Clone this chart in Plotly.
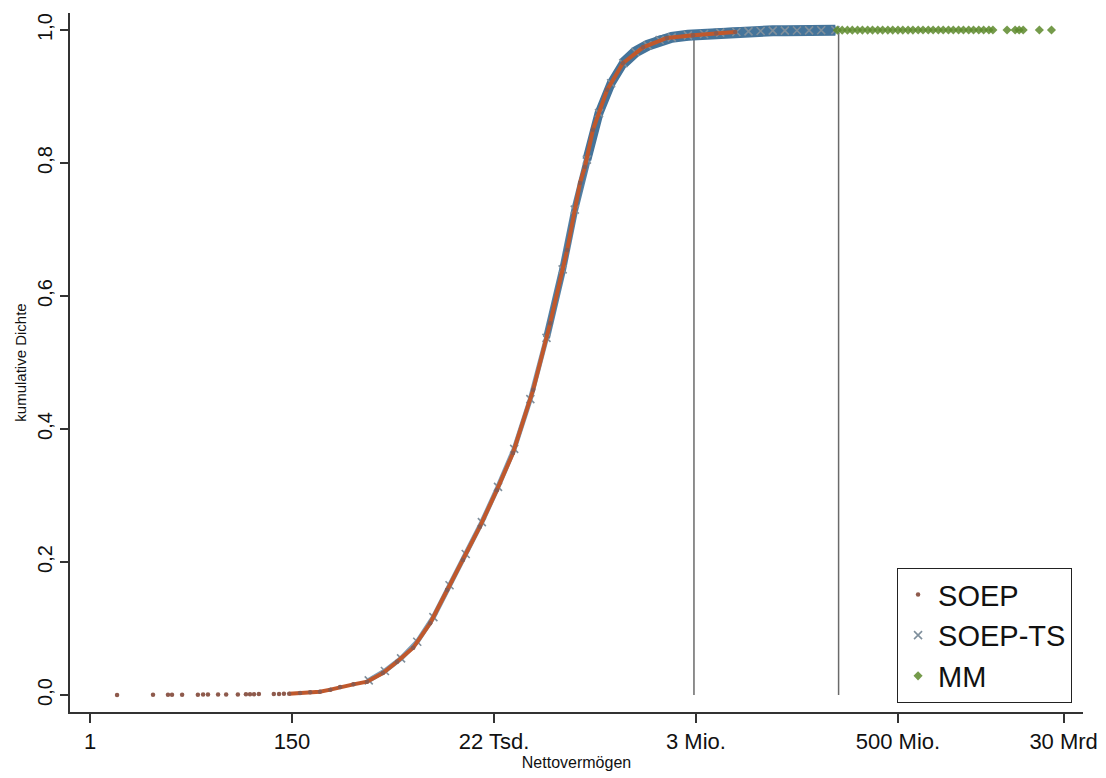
import plotly.graph_objects as go

# ---- data (x = ln(Nettovermögen), y = kumulative Dichte) ----
soep_ln = [0.67, 1.56, 1.93, 2.03, 2.28, 2.67, 2.80, 2.92, 3.17, 3.37, 3.66, 3.86, 3.96,
           4.06, 4.18, 4.55, 4.68, 4.80, 4.93, 5.20, 5.45, 5.69, 5.95, 6.19, 6.52, 6.86,
           7.25, 7.60, 8.00, 8.42, 8.84, 9.23, 9.65, 10.07, 10.47, 10.97, 11.39, 11.81,
           12.13, 12.25, 12.45, 12.80, 13.19, 13.69, 14.28, 14.93, 15.50, 15.97]
soep_cdf = [0.0001, 0.0002, 0.0003, 0.0003, 0.0004, 0.0005, 0.0006, 0.0006, 0.0007, 0.0008,
            0.0009, 0.0010, 0.0011, 0.0012, 0.0013, 0.0015, 0.0016, 0.0018, 0.0020, 0.003,
            0.004, 0.005, 0.008, 0.012, 0.016, 0.020, 0.033, 0.050, 0.071, 0.108, 0.158,
            0.203, 0.253, 0.308, 0.364, 0.459, 0.559, 0.669, 0.770, 0.794, 0.850, 0.910,
            0.950, 0.974, 0.988, 0.992, 0.995, 0.997]

soepts_ln = [6.9, 7.3, 7.7, 8.1, 8.5, 8.9, 9.3, 9.7, 10.1, 10.5, 10.9, 11.3, 11.7, 12.0,
             12.3, 12.6, 12.9, 13.2, 13.5, 13.8, 14.1, 14.4, 14.8, 15.2, 15.6, 16.0, 16.3,
             16.6, 16.9, 17.2, 17.5, 17.8, 18.1, 18.45]
soepts_cdf = [0.022, 0.036, 0.055, 0.080, 0.117, 0.165, 0.212, 0.260, 0.313, 0.370, 0.445,
              0.537, 0.640, 0.730, 0.805, 0.875, 0.920, 0.950, 0.967, 0.977, 0.985, 0.989,
              0.992, 0.994, 0.996, 0.997, 0.998, 0.9985, 0.999, 0.999, 0.9993, 0.9995,
              0.9997, 0.9998]

mm_ln = [18.50, 18.62, 18.75, 18.87, 19.00, 19.12, 19.25, 19.37, 19.50, 19.62, 19.75, 19.87,
         20.00, 20.12, 20.25, 20.37, 20.50, 20.62, 20.75, 20.87, 21.00, 21.12, 21.25, 21.37,
         21.50, 21.62, 21.75, 21.87, 22.00, 22.12, 22.25, 22.35, 22.70, 22.90, 23.00, 23.10,
         23.50, 23.80]
mm_cdf = [0.9998, 0.9998, 0.9998, 0.9998, 0.9999, 0.9999, 0.9999, 0.9999, 0.9999, 0.9999,
          0.9999, 0.9999, 0.9999, 0.9999, 0.9999, 0.9999, 1.0, 1.0, 1.0, 1.0, 1.0, 1.0, 1.0,
          1.0, 1.0, 1.0, 1.0, 1.0, 1.0, 1.0, 1.0, 1.0, 1.0, 1.0, 1.0, 1.0, 1.0, 1.0]

thresholds_ln = [14.95, 18.53]
threshold_top = 0.995

x_tickvals = [0, 5, 10, 15, 20, 24.1]
x_ticktext = ["1", "150", "22 Tsd.", "3 Mio.", "500 Mio.", "30 Mrd"]
y_tickvals = [0.0, 0.2, 0.4, 0.6, 0.8, 1.0]
y_ticktext = ["0,0", "0,2", "0,4", "0,6", "0,8", "1,0"]

C_SOEP = "#c0582c"
C_TS = "#45749a"
C_MM = "#5d8a2c"
FONT = "Liberation Sans, Arial, sans-serif"

fig = go.Figure()

# threshold lines
for t in thresholds_ln:
    fig.add_trace(go.Scatter(x=[t, t], y=[0, threshold_top], mode="lines",
                             line=dict(color="#6a6a6a", width=1.5),
                             showlegend=False, hoverinfo="skip"))

# SOEP-TS band: grows thicker toward the top (denser markers there)
band_steps = [(0.0, 5, 0.7), (0.45, 7, 0.9), (0.75, 9, 1.0), (0.95, 11, 1.0)]
for lo, w, op in band_steps:
    i0 = next(i for i, v in enumerate(soepts_cdf) if v >= lo)
    fig.add_trace(go.Scatter(x=soepts_ln[i0:], y=soepts_cdf[i0:], mode="lines",
                             line=dict(color=C_TS, width=w), opacity=op,
                             showlegend=False, hoverinfo="skip"))
fig.add_trace(go.Scatter(x=soepts_ln, y=soepts_cdf, mode="markers", name="SOEP-TS",
                         marker=dict(symbol="x-thin", size=8, color=C_TS,
                                     line=dict(color="#7f8f9c", width=1.6)),
                         legendrank=2))

# SOEP line + markers
start = next(i for i, v in enumerate(soep_ln) if v >= 4.9)
fig.add_trace(go.Scatter(x=soep_ln[start:], y=soep_cdf[start:], mode="lines",
                         line=dict(color=C_SOEP, width=4),
                         showlegend=False, hoverinfo="skip"))
fig.add_trace(go.Scatter(x=soep_ln, y=soep_cdf, mode="markers", name="SOEP",
                         marker=dict(symbol="circle", size=4.5, color="#8e5a4c"),
                         legendrank=1))

# MM
fig.add_trace(go.Scatter(x=mm_ln, y=mm_cdf, mode="markers", name="MM",
                         marker=dict(symbol="diamond", size=7, color=C_MM, opacity=0.85),
                         legendrank=3))

# page has an 8px body margin: shrink the figure so the plot lands where the reference has it
fig.update_layout(
    width=1098, height=770,
    margin=dict(l=62, r=23, t=5, b=66),
    paper_bgcolor="white", plot_bgcolor="white",
    font=dict(family=FONT, color="#111111"),
    showlegend=True,
    legend=dict(x=0.989, y=0.013, xanchor="right", yanchor="bottom",
                bordercolor="#222222", borderwidth=1.2, bgcolor="white",
                font=dict(size=29, family=FONT), itemsizing="trace"),
)
fig.update_xaxes(range=[-0.495, 24.58], tickmode="array", tickvals=x_tickvals,
                 ticktext=x_ticktext, ticks="outside", ticklen=9, tickwidth=1.5,
                 tickcolor="#333333", showline=True, linecolor="#333333", linewidth=1.5,
                 showgrid=False, zeroline=False, tickfont=dict(size=22), automargin=False,
                 title=dict(text="Nettovermögen", font=dict(size=16), standoff=0))
fig.update_yaxes(range=[-0.0256, 1.0256], tickmode="array", tickvals=y_tickvals,
                 ticktext=y_ticktext, ticks="outside", ticklen=8, tickwidth=1.5,
                 tickcolor="#333333", showline=True, linecolor="#333333", linewidth=1.5,
                 showgrid=False, zeroline=False, tickfont=dict(size=20), tickangle=-90,
                 automargin=False,
                 title=dict(text="kumulative Dichte", font=dict(size=15), standoff=4))

fig.write_html("out.html")
